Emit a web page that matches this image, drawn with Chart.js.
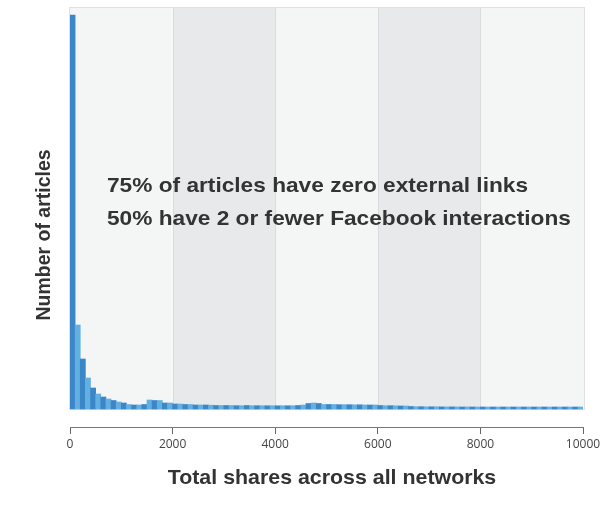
<!DOCTYPE html>
<html>
<head>
<meta charset="utf-8">
<script src="https://cdn.jsdelivr.net/npm/chart.js@4/dist/chart.umd.min.js"></script>
<style>
  html, body { margin: 0; padding: 0; background: #ffffff; }
  #wrap { width: 600px; height: 505px; position: relative; }
</style>
</head>
<body>
<div id="wrap"><canvas id="c"></canvas></div>
<script>
// ---- data ----
const binWidth = 100; // shares per bin
const binStarts = Array.from({length: 100}, (_, i) => i * binWidth);
// Relative number of articles per bin (arbitrary units)
const articleCounts = [
  394, 84, 50, 31, 21, 15, 12, 10, 8.5, 7,
  6, 4.5, 4, 4, 4.5, 9, 8.5, 8.5, 6, 6,
  5, 5, 4.5, 4.5, 4, 4, 4, 3.8, 3.5, 3.5,
  3.5, 3.5, 3.3, 3.3, 3.5, 3.3, 3.3, 3.3, 3.2, 3.3,
  3.2, 3.3, 3.2, 3.3, 3.5, 4, 5.5, 6, 5.5, 4.5,
  4.5, 4.5, 4.3, 4.3, 4.3, 4.2, 4.2, 4, 4, 4,
  3.5, 3.3, 3.3, 3.2, 3, 3, 2.5, 2.3, 2.3, 2.2,
  2.2, 2.2, 2.1, 2.1, 2.1, 2.1, 2, 2.1, 2, 2,
  2, 2, 2, 2, 2, 2, 2, 2, 2, 2,
  2, 2, 2, 2, 2, 2, 2, 2, 2, 2
];
const tickValues = [0, 2000, 4000, 6000, 8000, 10000];
const tickLabels = ['0', '2000', '4000', '6000', '8000', '10000'];
const bandEdges = [0, 2000, 4000, 6000, 8000, 10000];
const notes = ['75% of articles have zero external links', '50% have 2 or fewer Facebook interactions'];
const xTitle = 'Total shares across all networks';
const yTitle = 'Number of articles';

const barColors = articleCounts.map((_, i) => i % 2 === 0 ? '#3a86c7' : '#64afe2');
const TEXT_FONT = '"Liberation Sans", Arial, sans-serif';
const STRETCH = 1.08;

const bgPlugin = {
  id: 'bands',
  beforeDatasetsDraw(chart) {
    const {ctx, chartArea} = chart;
    const xs = chart.scales.x, ys = chart.scales.y;
    const top = chartArea.top, bottom = ys.getPixelForValue(0);
    ctx.save();
    for (let i = 0; i < bandEdges.length - 1; i++) {
      const x0 = xs.getPixelForValue(bandEdges[i]);
      const x1 = xs.getPixelForValue(bandEdges[i + 1]);
      ctx.fillStyle = i % 2 === 0 ? '#f4f5f5' : '#e8e9ea';
      ctx.fillRect(x0 - (i === 0 ? 1 : 0), top, x1 - x0 + (i === bandEdges.length - 2 ? 2 : 0), bottom - top);
    }
    ctx.strokeStyle = '#dadbdd';
    ctx.lineWidth = 1;
    for (let i = 1; i < bandEdges.length - 1; i++) {
      const x = Math.round(xs.getPixelForValue(bandEdges[i])) + 0.5;
      ctx.beginPath(); ctx.moveTo(x, top); ctx.lineTo(x, bottom); ctx.stroke();
    }
    ctx.strokeStyle = '#dfe0e1';
    const l = xs.getPixelForValue(0) - 1, r = xs.getPixelForValue(10000) + 1;
    ctx.strokeRect(Math.round(l) + 0.5, Math.round(top) + 0.5, Math.round(r - l), Math.round(bottom - top));
    ctx.restore();
  },
  afterDraw(chart) {
    const {ctx} = chart;
    ctx.save();
    ctx.fillStyle = '#333333';
    ctx.textBaseline = 'alphabetic';

    ctx.save();
    ctx.font = 'bold 21px ' + TEXT_FONT;
    ctx.textAlign = 'left';
    ctx.translate(107, 192);
    ctx.scale(STRETCH, 1);
    ctx.fillText(notes[0], 0, 0);
    ctx.fillText(notes[1], 0, 32.5);
    ctx.restore();

    ctx.save();
    ctx.font = 'bold 19.8px ' + TEXT_FONT;
    ctx.textAlign = 'center';
    ctx.translate(332, 484);
    ctx.scale(STRETCH, 1);
    ctx.fillText(xTitle, 0, 0);
    ctx.restore();

    ctx.save();
    ctx.font = 'bold 19.5px ' + TEXT_FONT;
    ctx.textAlign = 'center';
    ctx.translate(50, 235);
    ctx.rotate(-Math.PI / 2);
    ctx.scale(1, STRETCH);
    ctx.fillText(yTitle, 0, 0);
    ctx.restore();

    ctx.restore();
  }
};

new Chart(document.getElementById('c'), {
  type: 'bar',
  data: {
    datasets: [{
      data: binStarts.map((s, i) => ({x: s + binWidth / 2, y: articleCounts[i]})),
      backgroundColor: barColors,
      borderWidth: 0,
      barPercentage: 1,
      categoryPercentage: 1
    }]
  },
  options: {
    responsive: true,
    maintainAspectRatio: false,
    animation: false,
    layout: { padding: { left: 70, right: 17, top: 7, bottom: 0 } },
    plugins: { legend: { display: false }, tooltip: { enabled: false } },
    scales: {
      x: {
        type: 'linear',
        min: 0, max: 10000,
        offset: false,
        afterBuildTicks(s) { s.ticks = tickValues.map(v => ({value: v})); },
        afterFit(s) { s.height = 78; s.paddingLeft = 0; s.paddingRight = 0; },
        ticks: {
          color: '#444444',
          font: { family: '"Open Sans", "DejaVu Sans", sans-serif', size: 12 },
          padding: 3,
          maxRotation: 0,
          autoSkip: false,
          callback: (v, i) => tickLabels[i]
        },
        grid: { display: true, offset: false, drawOnChartArea: false, drawTicks: true, tickLength: 7, color: '#666666' },
        border: { display: true, color: '#777777', width: 1 }
      },
      y: {
        display: false,
        min: -18, max: 402
      }
    }
  },
  plugins: [bgPlugin]
});
</script>
</body>
</html>
